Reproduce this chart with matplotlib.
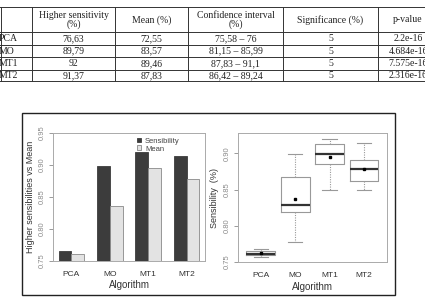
import numpy as np
import matplotlib.pyplot as plt
from matplotlib.patches import Rectangle

# ---- data -------------------------------------------------------------
algos = ["PCA", "MO", "MT1", "MT2"]
col_heads = ["Higher sensitivity\n(%)", "Mean (%)", "Confidence interval\n(%)",
             "Significance (%)", "p-value"]
t_sens = ["76,63", "89,79", "92", "91,37"]
t_mean = ["72,55", "83,57", "89,46", "87,83"]
t_ci = ["75,58 \u2013 76", "81,15 \u2013 85,99", "87,83 \u2013 91,1", "86,42 \u2013 89,24"]
t_sig = ["5", "5", "5", "5"]
t_p = ["2.2e-16", "4.684e-16", "7.575e-16", "2.316e-16"]

# bar chart (proportions)
sens = [0.7663, 0.8979, 0.92, 0.9137]
mean = [0.761, 0.8357, 0.8946, 0.8783]

# boxplot stats
whislo = [0.757, 0.777, 0.850, 0.849]
q1 = [0.7592, 0.8183, 0.8853, 0.8622]
med = [0.7606, 0.829, 0.8996, 0.8788]
q3 = [0.7652, 0.8668, 0.913, 0.8904]
whishi = [0.767, 0.899, 0.9204, 0.9139]
box_mean = [0.7625, 0.8363, 0.8954, 0.8788]

W, H = 425, 298
fig = plt.figure(figsize=(W / 100, H / 100), dpi=100)
fig.patch.set_facecolor("white")


def rect(x0, y0, x1, y1):
    return [x0 / W, 1 - y1 / H, (x1 - x0) / W, (y1 - y0) / H]


def fx(x):
    return x / W


def fy(y):
    return 1 - y / H


# ---- table (cut off at both sides, like the reference) -----------------
serif = "Liberation Serif"
row_lines = [7, 32, 45, 57, 70, 81]
col_lines = [1, 32, 115, 188, 283, 378]
for y in row_lines:
    fig.add_artist(plt.Line2D([0, 1], [fy(y), fy(y)], color="#333", lw=0.7))
for x in col_lines:
    fig.add_artist(plt.Line2D([fx(x), fx(x)], [fy(row_lines[0]), fy(row_lines[-1])],
                              color="#333", lw=0.7))

col_centers = [73.5, 151.5, 235.5, 330.5, 408]
for c, head in zip(col_centers, col_heads):
    fig.text(fx(c), fy(20), head, ha="center", va="center", fontsize=7,
             family=serif, color="#222", linespacing=1.05)

row_centers = [38.7, 51.2, 63.7, 75.6]
for i, yc in enumerate(row_centers):
    fig.text(fx(-1.5), fy(yc), algos[i], ha="left", va="center", fontsize=7,
             family=serif, color="#222")
    for c, col in zip(col_centers, [t_sens, t_mean, t_ci, t_sig, t_p]):
        fig.text(fx(c), fy(yc), col[i], ha="center", va="center", fontsize=7,
                 family=serif, color="#222")

# ---- frame around the charts ------------------------------------------
fig.add_artist(Rectangle((fx(22), fy(295)), fx(373), (295 - 113) / H,
                         transform=fig.transFigure, fill=False,
                         edgecolor="#222", lw=1.0))

sans = "Liberation Sans"
grey = "#8a8a8a"

# ---- left: bar chart ---------------------------------------------------
ax1 = fig.add_axes(rect(53, 133, 205, 261))
centers = np.arange(len(algos)) * 3 + 2
ax1.bar(centers - 0.5, [s - 0.75 for s in sens], bottom=0.75, width=1,
        color="#3c3c3c", edgecolor="#3c3c3c", lw=0.6, label="Sensibility")
ax1.bar(centers + 0.5, [m - 0.75 for m in mean], bottom=0.75, width=1,
        color="#e3e3e3", edgecolor="#888", lw=0.6, label="Mean")
ax1.set_xlim(0.56, 12.44)
ax1.set_ylim(0.75, 0.95)
ax1.set_xticks(centers)
ax1.set_xticklabels(algos)
ax1.set_yticks([0.75, 0.80, 0.85, 0.90, 0.95])
ax1.set_yticklabels(["0.75", "0.80", "0.85", "0.90", "0.95"], rotation=90, va="center")
ax1.tick_params(axis="x", length=0, labelsize=6, pad=7, labelcolor="#333")
ax1.tick_params(axis="y", length=3, width=0.6, color=grey, labelsize=5.5,
                labelcolor=grey, pad=2)
for sp in ax1.spines.values():
    sp.set_color("#aaa")
    sp.set_linewidth(0.7)
ax1.set_xlabel("Algorithm", fontsize=7, family=sans, color="#333", labelpad=2)
ax1.set_ylabel("Higher sensibilities vs Mean", fontsize=6.5, family=sans,
               color="#333", labelpad=3)
leg = ax1.legend(loc="upper left", bbox_to_anchor=(0.52, 1.0), frameon=False,
                 fontsize=5.5, handlelength=0.6, handleheight=0.6,
                 handletextpad=0.5, labelspacing=0.1, borderaxespad=0.2)
for t in leg.get_texts():
    t.set_color("#444")
    t.set_family(sans)
for lab in ax1.get_xticklabels() + ax1.get_yticklabels():
    lab.set_family(sans)

# ---- right: boxplot ----------------------------------------------------
ax2 = fig.add_axes(rect(237.5, 133, 387, 262))
stats = [dict(whislo=whislo[i], q1=q1[i], med=med[i], q3=q3[i], whishi=whishi[i],
              mean=box_mean[i], label=algos[i]) for i in range(len(algos))]
ax2.bxp(stats, positions=np.arange(1, len(algos) + 1), widths=0.84, showmeans=True,
        showfliers=False,
        boxprops=dict(color="#999", lw=0.8),
        medianprops=dict(color="#333", lw=1.6),
        whiskerprops=dict(color="#999", lw=0.8, ls=(0, (1, 1.2))),
        capprops=dict(color="#999", lw=0.8),
        meanprops=dict(marker="s", markersize=2, markerfacecolor="black",
                       markeredgecolor="black"))
ax2.set_xlim(0.32, 4.67)
ax2.set_ylim(0.7496, 0.9283)
ax2.set_yticks([0.75, 0.80, 0.85, 0.90])
ax2.set_yticklabels(["0.75", "0.80", "0.85", "0.90"], rotation=90, va="center")
ax2.tick_params(axis="x", length=0, labelsize=6, pad=7, labelcolor="#333")
ax2.tick_params(axis="y", length=3, width=0.6, color=grey, labelsize=5.5,
                labelcolor=grey, pad=2)
for sp in ax2.spines.values():
    sp.set_color("#aaa")
    sp.set_linewidth(0.7)
ax2.set_xlabel("Algorithm", fontsize=7, family=sans, color="#333", labelpad=2)
ax2.set_ylabel("Sensibility  (%)", fontsize=6.5, family=sans, color="#333",
               labelpad=3)
for lab in ax2.get_xticklabels() + ax2.get_yticklabels():
    lab.set_family(sans)

fig.savefig("out.png", dpi=100, facecolor="white")
